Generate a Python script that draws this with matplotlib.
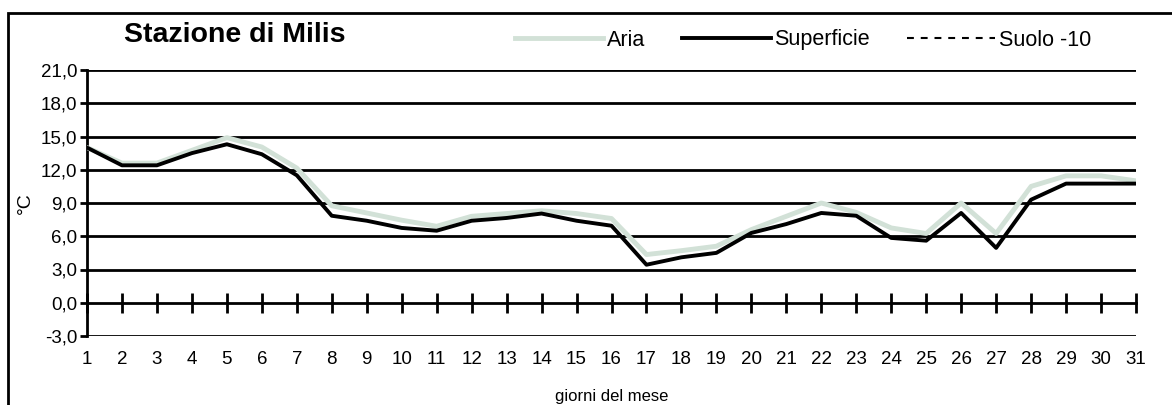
import matplotlib.pyplot as plt
from matplotlib.patches import Rectangle
from matplotlib.ticker import FuncFormatter

plt.rcParams['font.family'] = ['Liberation Sans', 'DejaVu Sans']

giorni = list(range(1, 32))
aria = [14.0, 12.6, 12.6, 13.75, 14.9, 14.05, 12.15, 8.75, 8.1, 7.45,
        6.9, 7.8, 8.05, 8.3, 8.05, 7.6, 4.35, 4.7, 5.1, 6.6,
        7.8, 9.0, 8.15, 6.75, 6.25, 9.0, 6.25, 10.5, 11.45, 11.45, 11.0]
superficie = [14.0, 12.4, 12.4, 13.5, 14.3, 13.4, 11.5, 7.85, 7.4, 6.75,
              6.5, 7.4, 7.65, 8.05, 7.4, 6.95, 3.43, 4.1, 4.5, 6.3,
              7.1, 8.1, 7.85, 5.85, 5.6, 8.1, 4.95, 9.3, 10.75, 10.75, 10.75]
suolo = []  # nessun dato per il suolo a -10 cm
y_ticks = [-3, 0, 3, 6, 9, 12, 15, 18, 21]

W, H = 1172, 405
fig = plt.figure(figsize=(W / 100, H / 100), dpi=100)
ax = fig.add_axes([87 / W, 1 - 336 / H, (1136 - 87) / W, (336 - 70) / H])

# cornice esterna
fig.patches.append(Rectangle((8 / W, -0.1), 1.2, 1 - 13 / H + 0.1,
                             transform=fig.transFigure, fill=False,
                             edgecolor='black', linewidth=2))

for v in y_ticks:
    if v != 0:
        ax.axhline(v, color='black', linewidth=2, zorder=1)

ax.plot(giorni, aria, color='#d2e1d7', linewidth=3.5, label='Aria', zorder=3)
ax.plot(giorni, superficie, color='black', linewidth=2.8,
        label='Superficie', zorder=4)
ax.plot(suolo, suolo, color='black', linewidth=1.5, linestyle=(0, (3.3, 3.3)),
        label='Suolo -10')

ax.set_xlim(1, 31)
ax.set_ylim(-3, 21)
ax.set_yticks(y_ticks)
ax.yaxis.set_major_formatter(FuncFormatter(lambda v, p: f'{v:.1f}'.replace('.', ',')))
ax.set_xticks(giorni)

for s in ['top', 'right']:
    ax.spines[s].set_visible(False)
ax.spines['bottom'].set_position(('data', 0))
ax.spines['bottom'].set_linewidth(2)
ax.spines['left'].set_linewidth(2)

ax.tick_params(axis='x', direction='inout', length=14, width=2,
               labelsize=13.5, pad=0)
ax.tick_params(axis='y', direction='out', length=5, width=2,
               labelsize=13.5, pad=2)
# etichette dei giorni sotto l'asse a -3
for t in ax.xaxis.get_major_ticks():
    t.label1.set_transform(ax.get_xaxis_transform())
    t.label1.set_y(-0.055)

ax.set_xlabel('giorni del mese', fontsize=12)
ax.xaxis.set_label_coords(0.5, -0.2)
ax.set_ylabel('°C', fontsize=14, labelpad=5)

fig.text(235 / W, 1 - 35 / H, 'Stazione di Milis', fontsize=20.5,
         fontweight='bold', ha='center', va='center')

ax.legend(loc='center', bbox_to_anchor=(803 / W, 1 - 40 / H),
          bbox_transform=fig.transFigure, ncol=3, frameon=False,
          fontsize=15.5, handlelength=4.1, handletextpad=0.15,
          columnspacing=1.75)

fig.savefig('out.png', dpi=100)
